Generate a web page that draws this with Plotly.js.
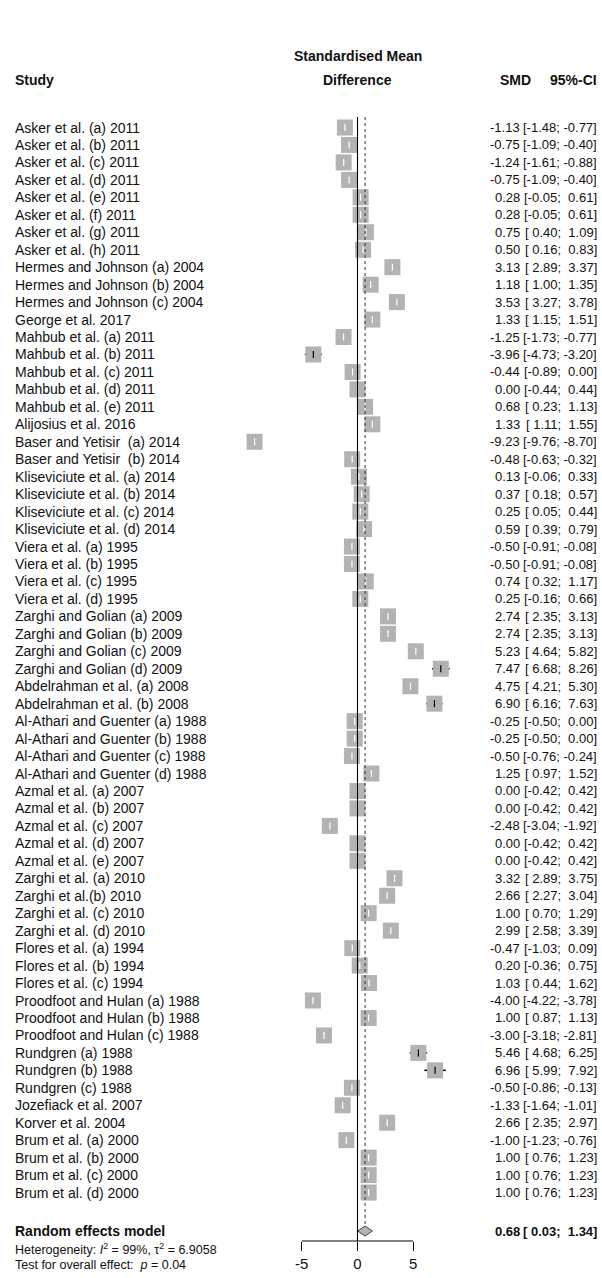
<!DOCTYPE html>
<html>
<head>
<meta charset="utf-8">
<script src="https://cdn.plot.ly/plotly-3.0.1.min.js"></script>
<style>
  html, body { margin: 0; padding: 0; background: #ffffff; }
  #forest { width: 602px; height: 1278px; }
</style>
</head>
<body>
<div id="forest"></div>
<script>
// Study labels, standardised mean differences and 95% confidence limits
const studies = [
  "Asker et al. (a) 2011", "Asker et al. (b) 2011", "Asker et al. (c) 2011", "Asker et al. (d) 2011",
  "Asker et al. (e) 2011", "Asker et al. (f) 2011", "Asker et al. (g) 2011", "Asker et al. (h) 2011",
  "Hermes and Johnson (a) 2004", "Hermes and Johnson (b) 2004", "Hermes and Johnson (c) 2004",
  "George et al. 2017",
  "Mahbub et al. (a) 2011", "Mahbub et al. (b) 2011", "Mahbub et al. (c) 2011", "Mahbub et al. (d) 2011",
  "Mahbub et al. (e) 2011",
  "Alijosius et al. 2016",
  "Baser and Yetisir  (a) 2014", "Baser and Yetisir  (b) 2014",
  "Kliseviciute et al. (a) 2014", "Kliseviciute et al. (b) 2014", "Kliseviciute et al. (c) 2014",
  "Kliseviciute et al. (d) 2014",
  "Viera et al. (a) 1995", "Viera et al. (b) 1995", "Viera et al. (c) 1995", "Viera et al. (d) 1995",
  "Zarghi and Golian (a) 2009", "Zarghi and Golian (b) 2009", "Zarghi and Golian (c) 2009",
  "Zarghi and Golian (d) 2009",
  "Abdelrahman et al. (a) 2008", "Abdelrahman et al. (b) 2008",
  "Al-Athari and Guenter (a) 1988", "Al-Athari and Guenter (b) 1988", "Al-Athari and Guenter (c) 1988",
  "Al-Athari and Guenter (d) 1988",
  "Azmal et al. (a) 2007", "Azmal et al. (b) 2007", "Azmal et al. (c) 2007", "Azmal et al. (d) 2007",
  "Azmal et al. (e) 2007",
  "Zarghi et al. (a) 2010", "Zarghi et al.(b) 2010", "Zarghi et al. (c) 2010", "Zarghi et al. (d) 2010",
  "Flores et al. (a) 1994", "Flores et al. (b) 1994", "Flores et al. (c) 1994",
  "Proodfoot and Hulan (a) 1988", "Proodfoot and Hulan (b) 1988", "Proodfoot and Hulan (c) 1988",
  "Rundgren (a) 1988", "Rundgren (b) 1988", "Rundgren (c) 1988",
  "Jozefiack et al. 2007",
  "Korver et al. 2004",
  "Brum et al. (a) 2000", "Brum et al. (b) 2000", "Brum et al. (c) 2000", "Brum et al. (d) 2000"
];

const smd = [
  -1.13, -0.75, -1.24, -0.75, 0.28, 0.28, 0.75, 0.50,
  3.13, 1.18, 3.53,
  1.33,
  -1.25, -3.96, -0.44, 0.00, 0.68,
  1.33,
  -9.23, -0.48,
  0.13, 0.37, 0.25, 0.59,
  -0.50, -0.50, 0.74, 0.25,
  2.74, 2.74, 5.23, 7.47,
  4.75, 6.90,
  -0.25, -0.25, -0.50, 1.25,
  0.00, 0.00, -2.48, 0.00, 0.00,
  3.32, 2.66, 1.00, 2.99,
  -0.47, 0.20, 1.03,
  -4.00, 1.00, -3.00,
  5.46, 6.96, -0.50,
  -1.33,
  2.66,
  -1.00, 1.00, 1.00, 1.00
];

const ciLower = [
  -1.48, -1.09, -1.61, -1.09, -0.05, -0.05, 0.40, 0.16,
  2.89, 1.00, 3.27,
  1.15,
  -1.73, -4.73, -0.89, -0.44, 0.23,
  1.11,
  -9.76, -0.63,
  -0.06, 0.18, 0.05, 0.39,
  -0.91, -0.91, 0.32, -0.16,
  2.35, 2.35, 4.64, 6.68,
  4.21, 6.16,
  -0.50, -0.50, -0.76, 0.97,
  -0.42, -0.42, -3.04, -0.42, -0.42,
  2.89, 2.27, 0.70, 2.58,
  -1.03, -0.36, 0.44,
  -4.22, 0.87, -3.18,
  4.68, 5.99, -0.86,
  -1.64,
  2.35,
  -1.23, 0.76, 0.76, 0.76
];

const ciUpper = [
  -0.77, -0.40, -0.88, -0.40, 0.61, 0.61, 1.09, 0.83,
  3.37, 1.35, 3.78,
  1.51,
  -0.77, -3.20, 0.00, 0.44, 1.13,
  1.55,
  -8.70, -0.32,
  0.33, 0.57, 0.44, 0.79,
  -0.08, -0.08, 1.17, 0.66,
  3.13, 3.13, 5.82, 8.26,
  5.30, 7.63,
  0.00, 0.00, -0.24, 1.52,
  0.42, 0.42, -1.92, 0.42, 0.42,
  3.75, 3.04, 1.29, 3.39,
  0.09, 0.75, 1.62,
  -3.78, 1.13, -2.81,
  6.25, 7.92, -0.13,
  -1.01,
  2.97,
  -0.76, 1.23, 1.23, 1.23
];

// Random effects summary
const pooled = { est: 0.68, lower: 0.03, upper: 1.34 };
const hetI2 = "99%";
const hetTau2 = "6.9058";
const overallP = "0.04";

const axisTicks = [-5, 0, 5];
const axisTickText = ["-5", "0", "5"];

// ---- geometry (pixels) ----
const W = 602, H = 1278;
const plotBottom = 1241;               // x axis line
const rowTop = 127.5, rowStep = 17.46; // first study row centre, row pitch
const zeroPx = 357.5, unitPx = 11.15;
const xMin = -zeroPx / unitPx, xMax = (W - zeroPx) / unitPx;
const yTop = -rowTop / rowStep, yBottom = (plotBottom - rowTop) / rowStep;
const summaryRow = (1231 - rowTop) / rowStep;
const boxPx = 16;
const halfBoxUnits = (boxPx / 2) / unitPx;

const FONT = "Liberation Sans, Arial, Helvetica, sans-serif";
const TXT = "#111111";
const FS = 14, FSNUM = 13;
const colSmdRight = 522, colCiRight = 599, labelLeft = 13;

const rows = studies.map((_, i) => i);
const fmt = v => v.toFixed(2);
const pad = s => s.padStart(5, " ");
const ciText = (lo, hi) => "[" + pad(fmt(lo)) + "; " + pad(fmt(hi)) + "]";

// CI drawn white when it sits inside the square, black when it sticks out
const inside = [], outside = [];
rows.forEach(i => {
  const half = (ciUpper[i] - ciLower[i]) / 2;
  (half > halfBoxUnits * 0.85 ? outside : inside).push(i);
});

function ciTrace(idx, colour) {
  return {
    type: "scatter", mode: "markers",
    x: idx.map(i => smd[i]), y: idx,
    marker: { symbol: "square", size: boxPx, color: "#b3b3b3", line: { width: 0 } },
    error_x: {
      type: "data", symmetric: false,
      array: idx.map(i => ciUpper[i] - smd[i]),
      arrayminus: idx.map(i => smd[i] - ciLower[i]),
      color: colour, thickness: 1.5, width: 0
    },
    hoverinfo: "skip", showlegend: false
  };
}
function centreTick(idx, colour) {
  return {
    type: "scatter", mode: "markers",
    x: idx.map(i => smd[i]), y: idx,
    marker: { symbol: "line-ns", size: 5, line: { color: colour, width: 1.2 } },
    hoverinfo: "skip", showlegend: false
  };
}

const dH = 5 / rowStep; // half height of the diamond, in rows
const diamond = {
  type: "scatter", mode: "lines", fill: "toself",
  x: [pooled.lower, pooled.est, pooled.upper, pooled.est, pooled.lower],
  y: [summaryRow, summaryRow - dH, summaryRow, summaryRow + dH, summaryRow],
  fillcolor: "#b3b3b3", line: { color: "#444444", width: 1 },
  hoverinfo: "skip", showlegend: false
};

const traces = [ciTrace(inside, "#ffffff"), ciTrace(outside, "#000000"),
  centreTick(inside, "#ffffff"), centreTick(outside, "#000000"), diamond];

const px = p => p / W;                               // pixel x -> paper x
const py = p => (plotBottom - p) / plotBottom;       // pixel y -> paper y

const ann = [];
function txt(x, y, text, anchor, size, yref) {
  ann.push({
    xref: "paper", yref: yref || "y", x: x, y: y, text: text,
    xanchor: anchor, yanchor: "middle", showarrow: false,
    font: { family: FONT, size: size, color: TXT }
  });
}

// header
txt(px(labelLeft), py(80), "<b>Study</b>", "left", FS, "paper");
txt(px(zeroPx), py(56), "<b>Standardised Mean</b>", "center", FS, "paper");
txt(px(zeroPx), py(80), "<b>Difference</b>", "center", FS, "paper");
txt(px(533), py(80), "<b>SMD</b>", "right", FS, "paper");
txt(px(colCiRight), py(80), "<b>95%-CI</b>", "right", FS, "paper");

// study rows
rows.forEach(i => {
  txt(px(labelLeft), i, studies[i], "left", FS);
  txt(px(colSmdRight), i, fmt(smd[i]), "right", FSNUM);
  txt(px(colCiRight), i, ciText(ciLower[i], ciUpper[i]), "right", FSNUM);
});

// summary row
txt(px(labelLeft), summaryRow, "<b>Random effects model</b>", "left", FS);
txt(px(colSmdRight), summaryRow, "<b>" + fmt(pooled.est) + "</b>", "right", FSNUM);
txt(px(colCiRight), summaryRow, "<b>" + ciText(pooled.lower, pooled.upper) + "</b>", "right", FSNUM);

// heterogeneity and overall test, under the summary line
txt(px(labelLeft), py(1249),
  "Heterogeneity: <i>I</i><sup>2</sup> = " + hetI2 + ", τ<sup>2</sup> = " + hetTau2, "left", 12.5, "paper");
txt(px(labelLeft), py(1265),
  "Test for overall effect:  <i>p</i> = " + overallP, "left", 12.5, "paper");

const shapes = [
  // line of no effect
  { type: "line", xref: "x", yref: "y", x0: 0, x1: 0, y0: -0.6, y1: yBottom,
    line: { color: "#000000", width: 1.1 } },
  // pooled estimate, dotted, down to the diamond
  { type: "line", xref: "x", yref: "y", x0: pooled.est, x1: pooled.est, y0: -0.6, y1: summaryRow - dH,
    line: { color: "#333333", width: 1, dash: "dot" } },
  // x axis line between the outer ticks
  { type: "line", xref: "x", yref: "paper", x0: axisTicks[0], x1: axisTicks[axisTicks.length - 1],
    y0: 0, y1: 0, line: { color: "#000000", width: 1.1 } }
];

const layout = {
  width: W, height: H,
  margin: { l: 0, r: 0, t: 0, b: H - plotBottom, pad: 0 },
  paper_bgcolor: "#ffffff", plot_bgcolor: "#ffffff",
  showlegend: false,
  xaxis: {
    range: [xMin, xMax], showgrid: false, zeroline: false, showline: false,
    tickmode: "array", tickvals: axisTicks, ticktext: axisTickText,
    ticks: "outside", ticklen: 9, tickwidth: 1.1, tickcolor: "#000000",
    tickfont: { family: FONT, size: 15, color: TXT }, fixedrange: true
  },
  yaxis: {
    range: [yBottom, yTop], showgrid: false, zeroline: false, showline: false,
    showticklabels: false, ticks: "", fixedrange: true
  },
  annotations: ann,
  shapes: shapes
};

Plotly.newPlot("forest", traces, layout, { staticPlot: true, displayModeBar: false });
</script>
</body>
</html>
